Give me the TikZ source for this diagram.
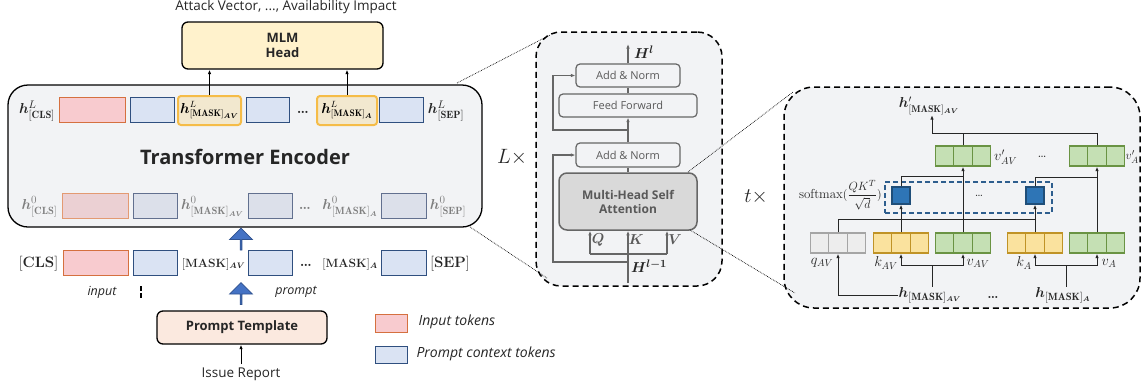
\documentclass[tikz,border=0pt]{standalone}
\usepackage{fontspec}
\setsansfont{Open Sans}
\usepackage{amsmath,bm}
\usetikzlibrary{arrows.meta,shapes.arrows}

\definecolor{txt}{HTML}{262626}
\definecolor{fadetxt}{HTML}{7F7F7F}
\definecolor{pinkfill}{HTML}{F8CBCF}
\definecolor{pinkline}{HTML}{D5703F}
\definecolor{pinkfade}{HTML}{EBD0D3}
\definecolor{pinklinefade}{HTML}{E39A72}
\definecolor{bluefill}{HTML}{DAE3F3}
\definecolor{blueline}{HTML}{2F4F7F}
\definecolor{bluefade}{HTML}{DCE0EA}
\definecolor{bluelinefade}{HTML}{62708F}
\definecolor{hlfill}{HTML}{F2E8CF}
\definecolor{hlline}{HTML}{F5BC48}
\definecolor{mlmfill}{HTML}{FFF2CC}
\definecolor{tplfill}{HTML}{FBE9DF}
\definecolor{panel}{HTML}{F2F3F5}
\definecolor{subline}{HTML}{666666}
\definecolor{subtxt}{HTML}{595959}
\definecolor{mhsafill}{HTML}{D9D9D9}
\definecolor{arrowfill}{HTML}{4472C4}
\definecolor{arrowline}{HTML}{2F528F}
\definecolor{greenfill}{HTML}{C5E0B4}
\definecolor{greenline}{HTML}{6A9343}
\definecolor{yellowfill}{HTML}{FAE29E}
\definecolor{yellowline}{HTML}{C09326}
\definecolor{grayfill}{HTML}{EDEDED}
\definecolor{grayline}{HTML}{A5A5A5}
\definecolor{sqfill}{HTML}{2E75B6}
\definecolor{sqline}{HTML}{1F4E79}
\definecolor{attline}{HTML}{2E5E8E}

\newcommand{\fsz}[1]{\fontsize{#1}{#1}\selectfont}

\tikzset{
  tok/.style={rectangle, minimum height=25pt, inner sep=0pt, line width=1pt},
  intok/.style={tok, fill=pinkfill, draw=pinkline},
  ctxtok/.style={tok, fill=bluefill, draw=blueline},
  intokfade/.style={tok, fill=pinkfade, draw=pinklinefade},
  ctxtokfade/.style={tok, fill=bluefade, draw=bluelinefade},
  hilite/.style={rectangle, rounded corners=3pt, fill=hlfill, draw=hlline, line width=2pt, minimum height=29pt, inner sep=0pt, font=\fsz{13.5}},
  hlab/.style={inner sep=0pt, font=\fsz{15}, text=txt},
  toklab/.style={inner sep=0pt, font=\fsz{15}, text=txt},
  block/.style={rectangle, rounded corners=6pt, draw=black, line width=1.3pt, align=center, text=txt, font=\sffamily\bfseries\fsz{13}},
  uparrow/.style={single arrow, rotate=90, fill=arrowfill, draw=arrowline, line width=0.8pt, minimum width=23pt, minimum height=22pt, single arrow head extend=5pt, single arrow head indent=0pt, inner sep=0pt},
  panelbox/.style={rectangle, fill=panel, draw=black, line width=1.5pt, dash pattern=on 6pt off 4pt},
  subbox/.style={rectangle, rounded corners=4pt, fill=panel, draw=subline, line width=1.2pt, text=subtxt, font=\sffamily\fsz{11}},
  mhsa/.style={rectangle, rounded corners=8pt, fill=mhsafill, draw=subline, line width=1.5pt, text=subtxt, align=center, font=\sffamily\bfseries\fsz{12}, minimum width=138pt, minimum height=57pt},
  vec/.style={rectangle, minimum width=55pt, minimum height=20pt, inner sep=0pt, line width=1.3pt, draw=#1,
    path picture={\foreach \dx in {-9.17,9.17}
      \draw[#1, line width=1.3pt] ([xshift=\dx pt]path picture bounding box.north) -- ([xshift=\dx pt]path picture bounding box.south);}},
  gvec/.style={vec=greenline, fill=greenfill},
  yvec/.style={vec=yellowline, fill=yellowfill},
  qvec/.style={vec=grayline, fill=grayfill},
  attsq/.style={rectangle, fill=sqfill, draw=sqline, line width=1.2pt, minimum width=18pt, minimum height=17pt, inner sep=0pt},
  vlab/.style={inner sep=0pt, font=\fsz{14}, text=txt},
  zoomline/.style={densely dotted, line width=0.7pt},
}

\begin{document}
\begin{tikzpicture}[x=1pt, y=-1pt, >={Latex[length=4.5pt, width=3.5pt]}]
  \useasboundingbox (0,0) rectangle (1145,389);

  % left: encoder and heads
  \node[font=\sffamily\fsz{13.5}, text=txt] (target) at (286,7) {Attack Vector, ..., Availability Impact};
  \node[block, fill=mlmfill, minimum width=201pt, minimum height=47pt] (mlm) at (282.5,45.5) {MLM\\[2pt]Head};
  \node[rectangle, rounded corners=20pt, fill=panel, draw=black, line width=1.3pt, minimum width=474pt, minimum height=142pt] (enc) at (245,156) {};
  \node[font=\sffamily\bfseries\fsz{20}, text=txt] (enctxt) at (245,157) {Transformer Encoder};

  \node[hlab] (clsL) at (37,111) {$\bm{h}^{L}_{[\mathbf{CLS}]}$};
  \node[intok, minimum width=66pt] (inL) at (92,110) {};
  \node[ctxtok, minimum width=44pt] (ctxL1) at (152,110) {};
  \node[hilite, minimum width=63pt] (mavL) at (209.5,110.5) {$\bm{h}^{L}_{[\mathbf{MASK}]_{\bm{AV}}}$};
  \node[ctxtok, minimum width=43pt] (ctxL2) at (267.5,110) {};
  \node[hlab] (dotsL) at (303,112) {\textbf{\dots}};
  \node[hilite, minimum width=60pt] (maL) at (347,110.5) {$\bm{h}^{L}_{[\mathbf{MASK}]_{\bm{A}}}$};
  \node[ctxtok, minimum width=44pt] (ctxL3) at (401,110) {};
  \node[hlab] (sepL) at (446,111) {$\bm{h}^{L}_{[\mathbf{SEP}]}$};
  \draw[->, line width=1pt] (mavL.north) -- (mavL.north |- mlm.south);
  \draw[->, line width=1pt] (maL.north) -- (maL.north |- mlm.south);

  \node[hlab, text=fadetxt] (cls0) at (39.5,207) {$\bm{h}^{0}_{[\mathbf{CLS}]}$};
  \node[intokfade, minimum width=66pt] (in0) at (95,206) {};
  \node[ctxtokfade, minimum width=44pt] (ctx01) at (155,206) {};
  \node[hlab, text=fadetxt] (mav0) at (212.5,207) {$\bm{h}^{0}_{[\mathbf{MASK}]_{\bm{AV}}}$};
  \node[ctxtokfade, minimum width=44pt] (ctx02) at (270,206) {};
  \node[hlab, text=fadetxt] (dots0) at (305,208) {\textbf{\dots}};
  \node[hlab, text=fadetxt] (ma0) at (350,207) {$\bm{h}^{0}_{[\mathbf{MASK}]_{\bm{A}}}$};
  \node[ctxtokfade, minimum width=45pt] (ctx03) at (403.5,206) {};
  \node[hlab, text=fadetxt] (sep0) at (448,207) {$\bm{h}^{0}_{[\mathbf{SEP}]}$};

  \node[uparrow] (up1) at (241,239.5) {};

  \node[toklab] (clsT) at (38.5,264) {[\textbf{CLS}]};
  \node[intok, minimum width=65pt] (inT) at (95.5,263) {};
  \node[ctxtok, minimum width=44pt] (ctxT1) at (155,263) {};
  \node[toklab, font=\fsz{12}] (mavT) at (213.5,264) {[\textbf{MASK}]$_{\bm{AV}}$};
  \node[ctxtok, minimum width=44pt] (ctxT2) at (270,263) {};
  \node[hlab] (dotsT) at (306,265) {\textbf{\dots}};
  \node[toklab, font=\fsz{12}] (maT) at (350,264) {[\textbf{MASK}]$_{\bm{A}}$};
  \node[ctxtok, minimum width=45pt] (ctxT3) at (403.5,263) {};
  \node[toklab] (sepT) at (450,264) {[\textbf{SEP}]};

  \node[font=\sffamily\itshape\fsz{12.5}, text=txt] (inputlab) at (102,292) {input};
  \node[font=\sffamily\itshape\fsz{12.5}, text=txt] (promptlab) at (296,292) {prompt};
  \draw[line width=1.3pt, dash pattern=on 5pt off 2pt] (141,286) -- (141,299);

  \node[uparrow] (up2) at (241,294) {};
  \node[block, fill=tplfill, minimum width=170pt, minimum height=33pt] (tpl) at (242,327.5) {Prompt Template};
  \node[font=\sffamily\fsz{13.5}, text=txt] (issue) at (241,374) {Issue Report};
  \draw[->, line width=1pt] (issue.north) -- (issue.north |- tpl.south);

  % legend
  \node[intok, minimum width=32pt, minimum height=18pt] (leg1) at (391,323) {};
  \node[anchor=west, font=\sffamily\itshape\fsz{14}, text=txt] (leg1txt) at (415,322) {Input tokens};
  \node[ctxtok, minimum width=32pt, minimum height=17pt] (leg2) at (391,354.5) {};
  \node[anchor=west, font=\sffamily\itshape\fsz{14}, text=txt] (leg2txt) at (413,354) {Prompt context tokens};

  % middle: one encoder layer
  \node[panelbox, rounded corners=25pt, minimum width=186pt, minimum height=254pt] (layer) at (629,159) {};
  \node[font=\fsz{20}, text=txt] (Ltimes) at (512,157) {$L\times$};
  \draw[zoomline] (457,83) -- (550,35);
  \draw[zoomline] (470,227) -- (547,278);

  \node[subbox, minimum width=104pt, minimum height=23pt] (an2) at (628,75.5) {Add \& Norm};
  \node[subbox, minimum width=138pt, minimum height=23pt] (ff) at (628,105.5) {Feed Forward};
  \node[subbox, minimum width=104pt, minimum height=24pt] (an1) at (628,155) {Add \& Norm};
  \node[mhsa] (mhsa) at (628,201.5) {Multi-Head Self\\[2pt]Attention};
  \node[font=\fsz{15}, text=txt] (Hl) at (644,52) {$\bm{H}^{\bm{l}}$};
  \node[font=\fsz{15}, text=txt] (Hl1) at (649,266) {$\bm{H}^{\bm{l-1}}$};
  \coordinate (top) at (628,44);
  \coordinate (bot) at (628,283);
  \coordinate (j1) at (628,130);
  \coordinate (r1) at (553,130);
  \coordinate (j2) at (628,262);
  \coordinate (r2) at (553,262);
  \coordinate (qin) at (590,254);
  \coordinate (vin) at (667,254);
  \begin{scope}[draw=subline, line width=1.2pt]
    \draw[->] (an2.north) -- (top);
    \draw (ff.north) -- (an2.south);
    \draw[->] (an1.north) -- (ff.south);
    \draw (mhsa.north) -- (an1.south);
    \draw[->] (j1) -- (r1) |- (an2.west);
    \draw[->] (j2) -- (r2) |- (an1.west);
    \draw[->] (bot) -- (mhsa.south);
    \draw (qin) -- (vin);
    \draw[->] (qin) -- (qin |- mhsa.south);
    \draw[->] (vin) -- (vin |- mhsa.south);
  \end{scope}
  \node[font=\fsz{14}, text=subtxt] (Q) at (598,240) {$\bm{Q}$};
  \node[font=\fsz{14}, text=subtxt] (K) at (636,240) {$\bm{K}$};
  \node[font=\fsz{14}, text=subtxt] (V) at (675,240) {$\bm{V}$};

  % right: one attention head
  \node[panelbox, rounded corners=30pt, minimum width=356pt, minimum height=221pt] (head) at (962,197.5) {};
  \node[font=\fsz{20}, text=txt] (ttimes) at (756,197) {$t\times$};
  \draw[zoomline] (688,172) -- (793,92);
  \draw[zoomline] (690,230) -- (795,293);

  \node[qvec] (qAV) at (838,243) {};
  \node[yvec] (kAV) at (901,243) {};
  \node[gvec] (vAV) at (963,243) {};
  \node[yvec] (kA) at (1035,243) {};
  \node[gvec] (vA) at (1097,243) {};
  \node[gvec] (vpAV) at (963,156) {};
  \node[gvec] (vpA) at (1097,156) {};
  \node[rectangle, draw=attline, line width=1.5pt, dash pattern=on 5pt off 3pt, minimum width=167pt, minimum height=31pt] (attbox) at (968.5,197.5) {};
  \node[attsq] (sq1) at (901,195.5) {};
  \node[attsq] (sq2) at (1035,195.5) {};
  \node[text=txt, font=\fsz{13}] (attdots) at (979,196) {\dots};
  \node[anchor=east, inner sep=0pt, text=txt, font=\fsz{13}] (smax) at (882,195) {softmax$(\dfrac{QK^T}{\sqrt{d}})$};

  \node[vlab] (qlab) at (822,263) {$q_{AV}$};
  \node[vlab] (klab1) at (886,263) {$k_{AV}$};
  \node[vlab] (vlab1) at (978,263) {$v_{AV}$};
  \node[vlab] (klab2) at (1024,263) {$k_{A}$};
  \node[vlab] (vlab2) at (1109,263) {$v_{A}$};
  \node[vlab, anchor=west] (vplab1) at (994,157) {$v'_{AV}$};
  \node[vlab] (vpdots) at (1042,157) {\dots};
  \node[vlab, anchor=west, font=\fsz{13}] (vplab2) at (1125.5,157) {$v'_{A}$};
  \node[vlab] (hp) at (929,106) {$\bm{h}'_{[\mathbf{MASK}]_{\bm{AV}}}$};
  \node[vlab, font=\fsz{15}] (hAV) at (930,295) {$\bm{h}_{[\mathbf{MASK}]_{\bm{AV}}}$};
  \node[vlab] (hdots) at (993,297) {\textbf{\dots}};
  \node[vlab, font=\fsz{15}] (hA) at (1063,295) {$\bm{h}_{[\mathbf{MASK}]_{\bm{A}}}$};

  \coordinate (qj) at (1035,219);
  \coordinate (s1o) at (963,176);
  \coordinate (s2o) at (1097,177);
  \coordinate (oj) at (932,133);
  \coordinate (sAV) at (932,265);
  \coordinate (sA) at (1066,265);
  \begin{scope}[draw=txt, line width=1pt]
    \draw (qAV.north) |- (qj);
    \draw[->] (kAV.north) -- (sq1.south);
    \draw[->] (kA.north) -- (sq2.south);
    \draw[->] (vAV.north) -- (vpAV.south);
    \draw[->] (vA.north) -- (vpA.south);
    \draw (sq1.north) |- (s1o);
    \draw (sq2.north) |- (s2o);
    \draw (vpAV.north) -- (vpAV.north |- oj);
    \draw[->] (vpA.north) |- (oj) -- (oj |- hp.south);
    \draw[->] (hAV.west) -| (qAV.south);
    \draw (sAV |- hAV.north) -- (sAV);
    \draw[->] (sAV) -| (kAV.south);
    \draw[->] (sAV) -| (vAV.south);
    \draw (sA |- hA.north) -- (sA);
    \draw[->] (sA) -| (kA.south);
    \draw[->] (sA) -| (vA.south);
  \end{scope}
\end{tikzpicture}
\end{document}
